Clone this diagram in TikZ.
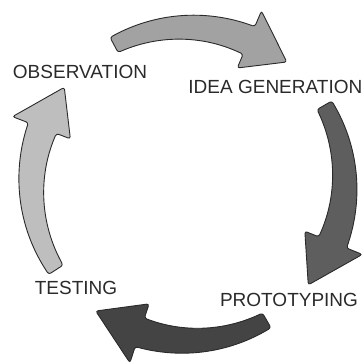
\documentclass[tikz,border=0pt]{standalone}
\usepackage{fontspec}
\setmainfont{Liberation Sans}
\usepackage{tikz}
\usetikzlibrary{calc}

\definecolor{obsgray}{HTML}{A2A2A2}
\definecolor{ideagray}{HTML}{5E5E5E}
\definecolor{protogray}{HTML}{444444}
\definecolor{testgray}{HTML}{BEBEBE}
\definecolor{inkgray}{HTML}{2A2A2A}

\begin{document}
\begin{tikzpicture}[x=1pt,y=1pt,
	arrowband/.style={draw=inkgray, line width=0.9pt, rounded corners=2.5pt},
	stage/.style={text=inkgray, font=\fontsize{19}{22}\selectfont, inner sep=0pt}]
	\useasboundingbox (0,0) rectangle (364,362);
	\coordinate (C) at (188,178);
	
	% tail angle / head base angle / tip angle / fill
	\begin{scope}[shift={(C)}]
	\foreach \ta/\tb/\tp/\col in {118/67/51/obsgray, 30/-22/-40/ideagray,
		-60/-108/-126/protogray, 213/159/142/testgray}{
		\draw[arrowband, fill=\col]
			plot[domain=\ta:\tb, samples=25, variable=\t] (\t:{166+5*(\t-\ta)/(\tb-\ta)})
			-- (\tb:188) -- (\tp:157) -- (\tb:126)
			-- plot[domain=\tb:\ta, samples=25, variable=\t] (\t:{141+8*(\t-\tb)/(\ta-\tb)})
			-- cycle;
	}
	\end{scope}
	
	\node[stage] (obs) at (80,290) {OBSERVATION};
	\node[stage, anchor=east] (idea) at (362.5,275) {IDEA GENERATION};
	\node[stage] (proto) at (289,62) {PROTOTYPING};
	\node[stage] (test) at (76,74) {TESTING};
\end{tikzpicture}
\end{document}
